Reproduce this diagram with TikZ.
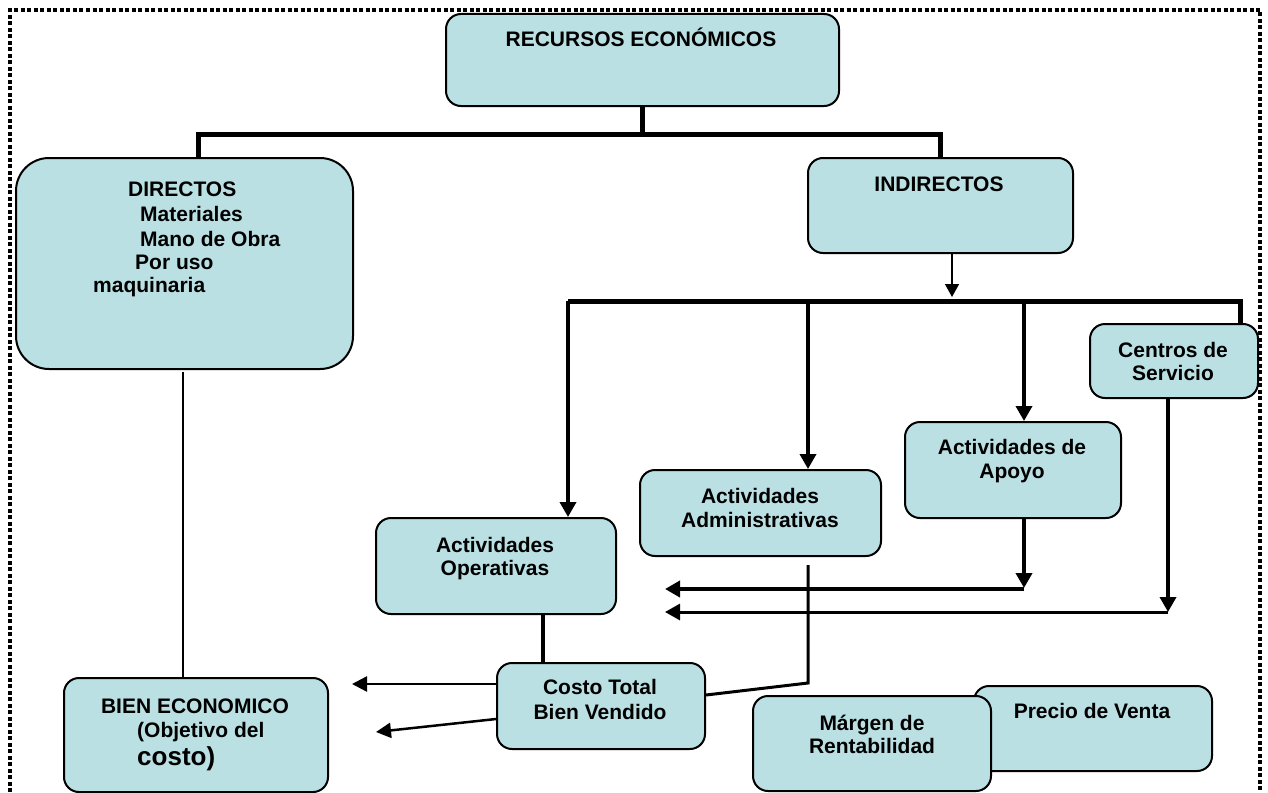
\documentclass[tikz,border=0pt]{standalone}
\usepackage{fontspec}
\setmainfont{Liberation Sans}
\usetikzlibrary{arrows.meta,calc}
\definecolor{boxfill}{RGB}{186,224,227}
\begin{document}
\begin{tikzpicture}[x=1pt,y=-1pt,
  box/.style={draw=black,line width=2pt,fill=boxfill,rounded corners=15pt,inner sep=0pt,anchor=north west,rectangle},
  txt/.style={font=\bfseries\fontsize{21}{24}\selectfont,anchor=base,inner sep=0pt},
  txtl/.style={txt,anchor=base west},
  bus/.style={line width=5pt},
  arr/.style={line width=3.5pt,-{Triangle[length=15pt,width=16pt]}},
  arrthin/.style={line width=1.5pt,-{Triangle[length=13pt,width=14pt]}},
  arrmid/.style={line width=2.5pt,-{Triangle[length=15pt,width=15pt]}},
  frame/.style={line width=3.5pt,dash pattern=on 4pt off 2.5pt}]
\useasboundingbox (0,0) rectangle (1268,792);
% frame
\draw[frame] (10,792) -- (10,10) -- (1260,10) -- (1260,792);
% boxes
\node[box,minimum width=393pt,minimum height=92pt] (rec) at (445,13) {};
\node[box,rounded corners=33pt,minimum width=337pt,minimum height=211pt] (dir) at (15,157) {};
\node[box,minimum width=265pt,minimum height=95pt] (ind) at (807,157) {};
\node[box,minimum width=168pt,minimum height=74pt] (cen) at (1089,323) {};
\node[box,minimum width=216pt,minimum height=96pt] (apo) at (904,421) {};
\node[box,minimum width=241pt,minimum height=86pt] (adm) at (639,469) {};
\node[box,minimum width=240pt,minimum height=96pt] (ope) at (375,517) {};
\node[box,minimum width=208pt,minimum height=86pt] (cos) at (496,662) {};
\node[box,minimum width=264pt,minimum height=114pt] (bien) at (63,677) {};
\node[box,minimum width=238pt,minimum height=85pt] (pre) at (973,685) {};
\node[box,minimum width=238pt,minimum height=95pt] (mar) at (752,695) {};
% texts
\node[txt] (trec) at (641,47) {RECURSOS ECONÓMICOS};
\node[txtl] (td1) at (128,196) {DIRECTOS};
\node[txtl] (td2) at (140,221) {Materiales};
\node[txtl] (td3) at (140,246) {Mano de Obra};
\node[txtl] (td4) at (135,269) {Por uso};
\node[txtl] (td5) at (93,292) {maquinaria};
\node[txt] (tind) at (939,191) {INDIRECTOS};
\node[txt] (tcen1) at (1173,357) {Centros de};
\node[txt] (tcen2) at (1173,380) {Servicio};
\node[txt] (tapo1) at (1012,454) {Actividades de};
\node[txt] (tapo2) at (1012,478) {Apoyo};
\node[txt] (tadm1) at (760,503) {Actividades};
\node[txt] (tadm2) at (760,527) {Administrativas};
\node[txt] (tope1) at (495,552) {Actividades};
\node[txt] (tope2) at (495,575) {Operativas};
\node[txt] (tcos1) at (600,694) {Costo Total};
\node[txt] (tcos2) at (600,719) {Bien Vendido};
\node[txt] (tbien1) at (195,713) {BIEN ECONOMICO};
\node[txtl] (tbien2) at (137,737) {(Objetivo del};
\node[txtl,font=\bfseries\fontsize{26}{30}\selectfont] (tbien3) at (137,765) {costo)};
\node[txt] (tpre) at (1092,718) {Precio de Venta};
\node[txt] (tmar1) at (872,730) {Márgen de};
\node[txt] (tmar2) at (872,753) {Rentabilidad};
% coordinates
\coordinate (dj) at (198,157);
\coordinate (bl) at (568,301);
\coordinate (apoj) at (1024,589);
\coordinate (cenj) at (1168,612);
\coordinate (admtop) at (808,565);
\coordinate (admj) at (808,683);
\coordinate (lineDtop) at (183,372);
\coordinate (tipA) at (665,589);
\coordinate (tipB) at (665,612);
\coordinate (tipC) at (352,684);
\coordinate (tipD) at (376,732);
% trunk
\draw[bus] (rec.south) -- (rec.south |- 0,134);
\draw[bus] (dj) -- (198,134) -| (ind.north);
% indirect arrow
\draw[arrthin] (ind.south -| 952,0) -- (952,297);
% bus
\draw[bus] (bl) -- (1240,301) -- (cen.north -| 1240,0);
\draw[arr] (bl) -- (ope.north -| bl);
\draw[arr] (808,301) -- (adm.north -| 808,0);
\draw[arr] (1024,301) -- (apo.north -| 1024,0);
% apoyo / centros
\draw[arr,line width=4pt] (apo.south -| apoj) -- ($(apoj)+(0,-1)$);
\draw[arr,line width=4pt] (apoj) -- (tipA);
\draw[arr] (cen.south -| cenj) -- (cenj);
\draw[arr,line width=3pt] (cenj) -- (tipB);
% admin to costo
\draw[line width=3pt] (admtop) -- (admj) -- (cos.east |- 0,695);
% operativas to costo
\draw[line width=3.5pt] (ope.south -| 543,0) -- (cos.north -| 543,0);
% costo arrows
\draw[arrmid] (cos.west |- tipC) -- (tipC);
\draw[arrmid] (cos.west |- 0,719) -- (tipD);
% directos to bien
\draw[line width=1.5pt] (lineDtop) -- (bien.north -| lineDtop);
\end{tikzpicture}
\end{document}
